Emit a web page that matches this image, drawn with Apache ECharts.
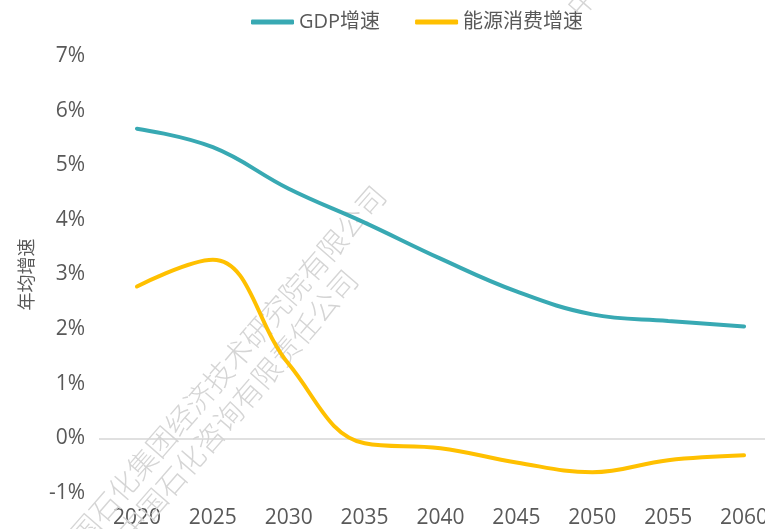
<!DOCTYPE html>
<html>
<head>
<meta charset="utf-8">
<script src="https://cdn.jsdelivr.net/npm/echarts@6/dist/echarts.min.js"></script>
<style>
html, body { margin: 0; padding: 0; background: #fff; }
#chart { width: 765px; height: 529px; }
</style>
</head>
<body>
<div id="chart"></div>
<script>
// 年份与增速（%）
var years = ['2020', '2025', '2030', '2035', '2040', '2045', '2050', '2055', '2060']
var gdpGrowth = [5.67, 5.33, 4.57, 3.95, 3.29, 2.69, 2.27, 2.15, 2.05]
var energyGrowth = [2.78, 3.27, 1.36, -0.09, -0.18, -0.44, -0.62, -0.4, -0.31]
var seriesNames = ['GDP增速', '能源消费增速']
var yAxisName = '年均增速'
var watermark1 = '中国石化集团经济技术研究院有限公司'
var watermark2 = '中国石化咨询有限责任公司'

var font = '"Open Sans", "Noto Sans CJK SC", sans-serif'
var textColor = '#595959'

var chart = echarts.init(document.getElementById('chart'))

function wm (text, x, y, align) { // 水印
  return {
    type: 'text',
    x: x,
    y: y,
    rotation: 49 * Math.PI / 180,
    z: 5,
    silent: true,
    style: {
      text: text,
      fontSize: 29,
      fontWeight: 300,
      fontFamily: '"Noto Sans CJK SC", sans-serif',
      fill: '#d5d5d5',
      align: align,
      verticalAlign: 'middle'
    }
  }
}

var option = {
  backgroundColor: '#fff',
  textStyle: { fontFamily: font },
  legend: {
    top: 7,
    left: 246,
    itemWidth: 43,
    itemHeight: 5,
    itemGap: 35,
    icon: 'roundRect',
    textStyle: { fontSize: 20, color: textColor, fontFamily: font },
    data: seriesNames
  },
  grid: {
    left: 99,
    top: 56,
    width: 683,
    height: 437,
    containLabel: false,
    outerBoundsMode: 'none'
  },
  xAxis: {
    type: 'category',
    data: years,
    boundaryGap: true,
    axisLine: { show: false },
    axisTick: { show: false },
    splitLine: { show: false },
    axisLabel: { fontSize: 21, color: textColor, margin: 15, fontFamily: font }
  },
  yAxis: {
    type: 'value',
    min: -1,
    max: 7,
    interval: 1,
    name: yAxisName,
    nameLocation: 'middle',
    nameRotate: 90,
    nameGap: 62,
    nameTextStyle: { fontSize: 18, color: textColor, fontFamily: font },
    axisLine: { show: false },
    axisTick: { show: false },
    splitLine: { show: false },
    axisLabel: { fontSize: 21, color: textColor, margin: 14, formatter: '{value}%', fontFamily: font }
  },
  graphic: [
    wm(watermark1, 380, 190, 'right'),
    wm(watermark2, 352, 274, 'right'),
    wm(watermark1, 572, 12, 'left')
  ],
  series: [
    {
      name: seriesNames[0],
      type: 'line',
      data: gdpGrowth,
      smooth: 0.4,
      symbol: 'none',
      z: 10,
      lineStyle: { width: 4, color: '#38A9B3', cap: 'round' },
      itemStyle: { color: '#38A9B3' },
      markLine: {
        silent: true,
        symbol: 'none',
        z: 1,
        label: { show: false },
        lineStyle: { color: '#d6d6d6', width: 1.5, type: 'solid' },
        data: [{ yAxis: 0 }]
      }
    },
    {
      name: seriesNames[1],
      type: 'line',
      data: energyGrowth,
      smooth: 0.4,
      symbol: 'none',
      z: 10,
      lineStyle: { width: 4, color: '#FFC000', cap: 'round' },
      itemStyle: { color: '#FFC000' }
    }
  ]
}

chart.setOption(option)
</script>
</body>
</html>
